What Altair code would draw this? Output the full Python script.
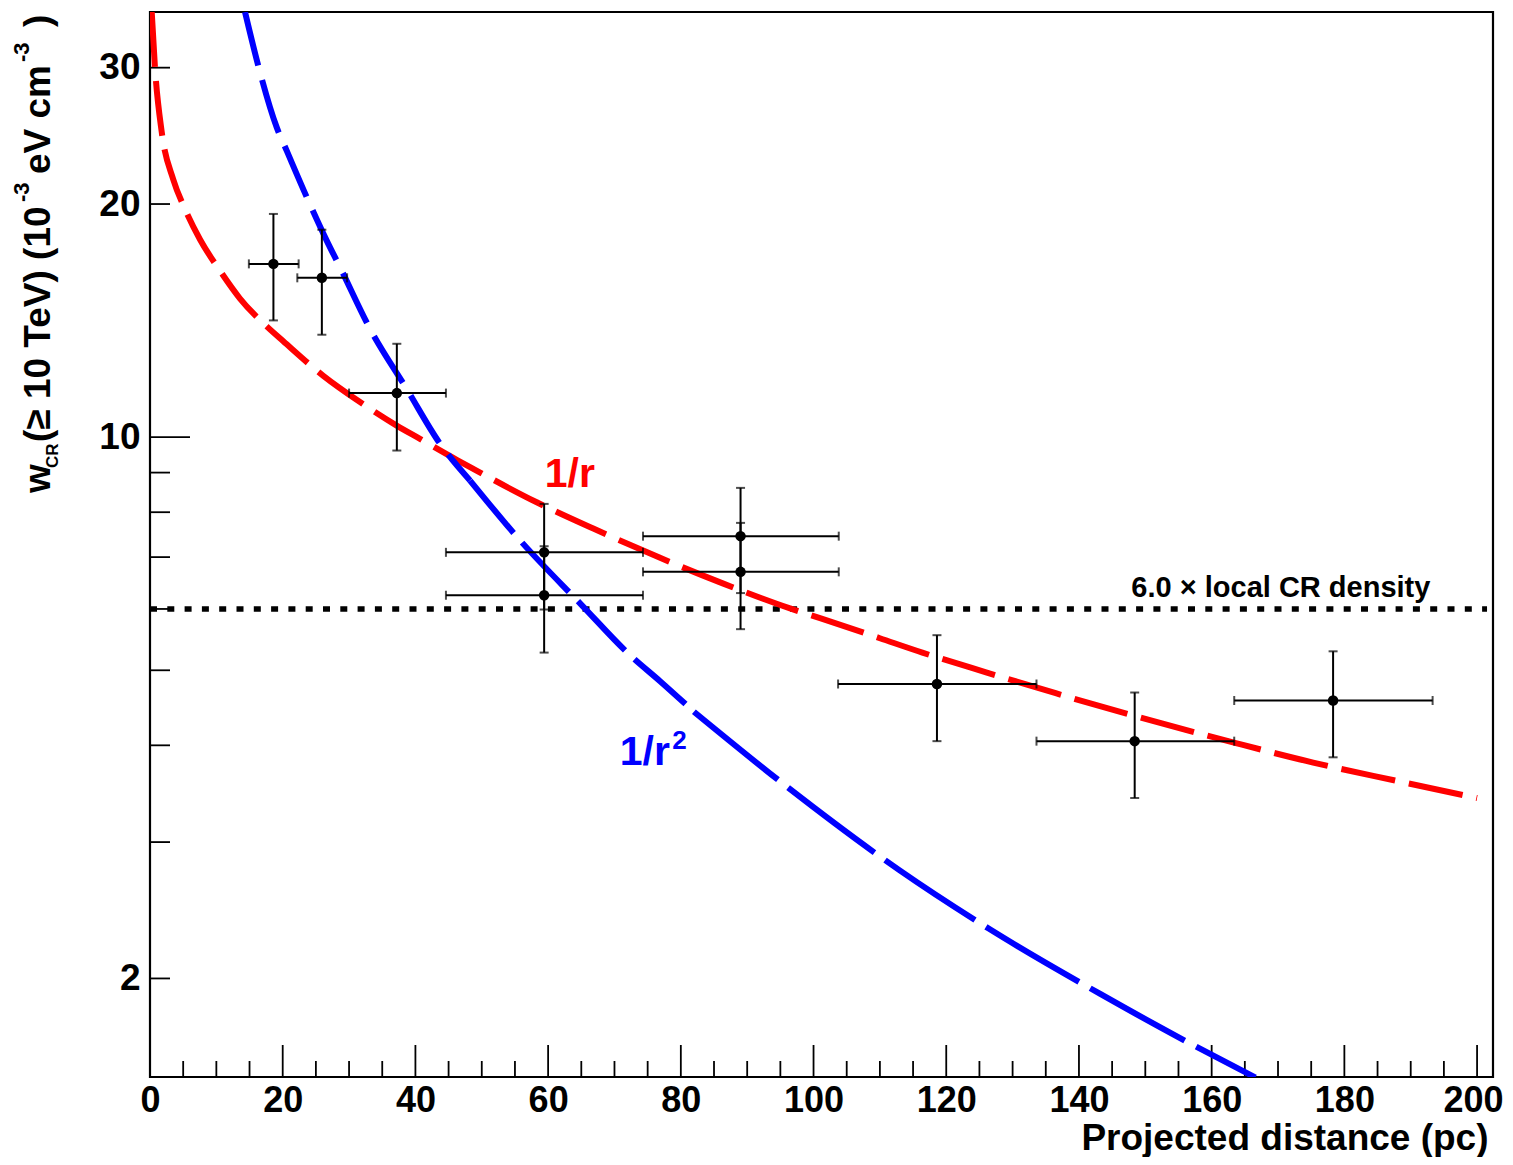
import altair as alt
import pandas as pd

# ---------------- data ----------------
pt_x   = [18.6, 25.9, 37.2, 59.4, 59.4, 89.0, 89.0, 118.6, 148.4, 178.3]
pt_y   = [16.74, 16.06, 11.40, 7.10, 6.25, 7.45, 6.70, 4.80, 4.05, 4.57]
pt_ylo = [14.15, 13.56, 9.61, 5.99, 5.27, 6.29, 5.65, 4.05, 3.42, 3.86]
pt_yhi = [19.42, 18.53, 13.20, 8.20, 7.23, 8.60, 7.75, 5.55, 4.68, 5.29]
pt_xlo = [14.9, 22.2, 30.0, 44.6, 44.6, 74.3, 74.3, 103.7, 133.6, 163.4]
pt_xhi = [22.4, 29.7, 44.6, 74.3, 74.3, 103.8, 103.8, 133.6, 163.4, 193.3]

# "1/r" model curve (red)
red_x = [0.26, 0.75, 1.76, 3.51, 5.28, 7.54, 10.55, 13.56, 17.59, 20.09, 26.12,
         31.65, 37.18, 40.69, 46.22, 48.73, 58.28, 66.81, 76.61, 86.41, 96.46,
         100.98, 110.0, 116.4, 126.0, 136.5, 145.7, 163.5, 175.3, 187.8, 200.0]
red_y = [35.4, 30.0, 24.8, 21.5, 19.7, 18.0, 16.4, 15.1, 13.9, 13.3, 12.0,
         11.1, 10.35, 9.95, 9.35, 9.1, 8.24, 7.62, 7.00, 6.47, 6.01,
         5.84, 5.50, 5.27, 4.97, 4.67, 4.43, 4.03, 3.80, 3.60, 3.42]

# "1/r^2" model curve (blue)
blue_x = [14.32, 16.32, 19.1, 20.6, 23.86, 26.63, 28.64, 33.16, 38.69, 43.7,
          48.23, 55.76, 65.06, 72.34, 76.87, 81.97, 96.11, 112.93, 126.39,
          143.21, 156.67, 166.6]
blue_y = [35.4, 30.17, 25.12, 23.44, 20.2, 17.94, 16.57, 13.8, 11.54, 9.81,
          8.79, 7.36, 6.07, 5.23, 4.84, 4.42, 3.53, 2.76, 2.32,
          1.91, 1.65, 1.49]

local_level = 6.0
local_x = [0.0, 201.5]

x_major = [0, 20, 40, 60, 80, 100, 120, 140, 160, 180, 200]
x_minor = [5, 10, 15, 25, 30, 35, 45, 50, 55, 65, 70, 75, 85, 90, 95,
           105, 110, 115, 125, 130, 135, 145, 150, 155, 165, 170, 175,
           185, 190, 195]
y_labels = [2, 10, 20, 30]
y_ticks_short = [2, 3, 4, 5, 6, 7, 8, 9, 20, 30]
y_ticks_long = [10]

FONT = "Liberation Sans"
W, H = 1343, 1065

xs = alt.Scale(domain=[0, 202.4], nice=False, zero=False)
ys = alt.Scale(type="log", domain=[1.492, 35.4], nice=False)

xax = alt.Axis(values=x_major, ticks=False, tickSize=0, domain=False, grid=False,
               labelFont=FONT, labelFontSize=36, labelFontWeight="bold",
               labelColor="black", labelPadding=6, labelFlush=False,
               labelOverlap=False,
               labelOffset={"condition": {"test": "datum.value === 200",
                                          "value": -4}, "value": 0},
               title="Projected distance (pc)", titleFont=FONT,
               titleFontSize=37, titleFontWeight="bold", titleColor="black",
               titleAnchor="end", titleAlign="right", titleBaseline="alphabetic",
               titleAngle=0, titleX=1338, titleY=72)
yax = alt.Axis(values=y_labels, format="d", ticks=False, tickSize=0, domain=False,
               grid=False, labelFont=FONT, labelFontSize=37,
               labelFontWeight="bold", labelColor="black", labelPadding=10,
               labelOverlap=False, title=None)


def X(field):
    return alt.X(field, type="quantitative", scale=xs, axis=xax)


def Y(field):
    return alt.Y(field, type="quantitative", scale=ys, axis=yax)


pts = pd.DataFrame({"x": pt_x, "y": pt_y, "ylo": pt_ylo, "yhi": pt_yhi,
                    "xlo": pt_xlo, "xhi": pt_xhi})
red = pd.DataFrame({"x": red_x, "y": red_y})
blue = pd.DataFrame({"x": blue_x, "y": blue_y})
loc = pd.DataFrame({"x": [local_x[0]], "x2": [local_x[1]], "y": [local_level]})

# ticks drawn inside the frame (ROOT style)
tx_major = alt.Chart(pd.DataFrame({"t": x_major})).mark_rule(
    color="black", strokeWidth=1.8).encode(
    x=X("t"), y=alt.value(H), y2=alt.value(H - 32))
tx_minor = alt.Chart(pd.DataFrame({"t": x_minor})).mark_rule(
    color="black", strokeWidth=1.8).encode(
    x=X("t"), y=alt.value(H), y2=alt.value(H - 16))
ty_short = alt.Chart(pd.DataFrame({"t": y_ticks_short})).mark_rule(
    color="black", strokeWidth=1.8).encode(
    y=Y("t"), x=alt.value(0), x2=alt.value(20))
ty_long = alt.Chart(pd.DataFrame({"t": y_ticks_long})).mark_rule(
    color="black", strokeWidth=1.8).encode(
    y=Y("t"), x=alt.value(0), x2=alt.value(40))

dotted = alt.Chart(loc).mark_rule(
    color="black", strokeWidth=5.5, strokeDash=[7, 10.3]).encode(
    x=X("x"), x2="x2", y=Y("y"))

red_line = alt.Chart(red).mark_line(
    color="#ff0000", strokeWidth=6, strokeDash=[55, 14], clip=True,
    interpolate="monotone").encode(x=X("x"), y=Y("y"))

# the blue dashes get longer as the curve flattens in the reference
blue_parts = [
    ("datum.x <= 48.23", [55, 15]),
    ("datum.x >= 48.23 && datum.x <= 81.97", [68, 13]),
    ("datum.x >= 81.97", [108, 13]),
]
blue_layers = [
    alt.Chart(blue).transform_filter(test).mark_line(
        color="#0000ff", strokeWidth=6, strokeDash=dash, clip=True,
        interpolate="monotone").encode(x=X("x"), y=Y("y"))
    for test, dash in blue_parts
]

ex = alt.Chart(pts).mark_rule(color="black", strokeWidth=2).encode(
    x=X("xlo"), x2="xhi", y=Y("y"))
ey = alt.Chart(pts).mark_rule(color="black", strokeWidth=2).encode(
    x=X("x"), y=Y("ylo"), y2="yhi")
cap_xlo = alt.Chart(pts).mark_tick(color="black", orient="vertical", size=9,
                                   thickness=2).encode(x=X("xlo"), y=Y("y"))
cap_xhi = alt.Chart(pts).mark_tick(color="black", orient="vertical", size=9,
                                   thickness=2).encode(x=X("xhi"), y=Y("y"))
cap_ylo = alt.Chart(pts).mark_tick(color="black", orient="horizontal", size=9,
                                   thickness=2).encode(x=X("x"), y=Y("ylo"))
cap_yhi = alt.Chart(pts).mark_tick(color="black", orient="horizontal", size=9,
                                   thickness=2).encode(x=X("x"), y=Y("yhi"))
dots = alt.Chart(pts).mark_point(filled=True, shape="circle", size=110,
                                 color="black", opacity=1).encode(
    x=X("x"), y=Y("y"))

# annotations
ann = pd.DataFrame({
    "x": [59.5, 70.8, 78.7, 147.9],
    "y": [8.61, 3.772, 3.96, 6.21],
    "t": ["1/r", "1/r", "2", "6.0 \u00d7 local CR density"],
    "c": ["#ff0000", "#0000ff", "#0000ff", "black"],
    "s": [41, 41, 26, 29],
})
ann_layers = []
for i in range(len(ann)):
    row = ann.iloc[[i]]
    ann_layers.append(
        alt.Chart(row).mark_text(
            font=FONT, fontWeight="bold", fontSize=int(ann.s[i]),
            color=ann.c[i], align="left", baseline="alphabetic").encode(
            x=X("x"), y=Y("y"), text="t:N"))

# y-axis title with sub/superscripts, composed of rotated pieces
one = pd.DataFrame({"a": [0]})
ytitle_parts = [
    ("w", -100, 481, 37),
    ("CR", -92, 456, 17),
    ("(\u2265 10 TeV) (10", -100, 430, 37),
    ("-3", -121, 190, 22),
    ("eV cm", -100, 162, 37),
    ("-3", -121, 50, 22),
    (")", -100, 15, 37),
]
ytitle_layers = [
    alt.Chart(one).mark_text(text=t, angle=270, align="left",
                             baseline="alphabetic", font=FONT,
                             fontWeight="bold", fontSize=s, color="black").encode(
        x=alt.value(px), y=alt.value(py))
    for (t, px, py, s) in ytitle_parts
]

chart = alt.layer(
    tx_major, tx_minor, ty_short, ty_long, dotted, red_line, *blue_layers,
    ex, ey, cap_xlo, cap_xhi, cap_ylo, cap_yhi, dots,
    *ann_layers, *ytitle_layers
).properties(
    width=W, height=H,
    autosize=alt.AutoSizeParams(type="none"),
    padding={"left": 142, "top": 4, "right": 12, "bottom": 80},
    background="white",
).configure_view(stroke="black", strokeWidth=2.2)

chart.save("out.html", embed_options={"renderer": "svg", "actions": False})
